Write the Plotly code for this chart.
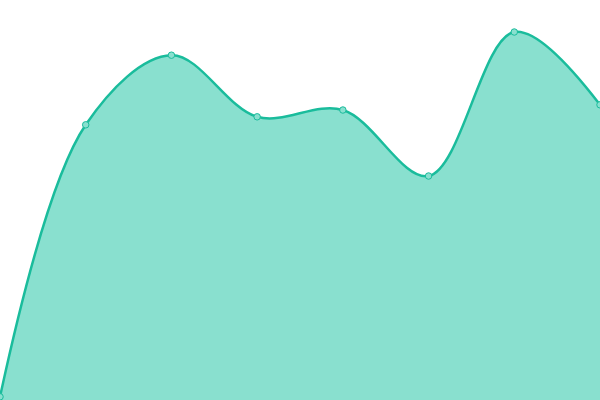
import plotly.graph_objects as go

# point index and values (y axis 0..100)
idx = [0, 1, 2, 3, 4, 5, 6, 7]
values = [0.8, 68.8, 86.2, 70.8, 72.5, 56.0, 92.0, 73.8]

line_col = '#1abc9c'
fill_col = '#89e0cf'

fig = go.Figure()
fig.add_trace(go.Scatter(
    x=idx, y=values,
    mode='lines+markers',
    line=dict(color=line_col, width=2.5, shape='spline', smoothing=1),
    fill='tozeroy', fillcolor=fill_col,
    marker=dict(size=6.5, color=fill_col, line=dict(color=line_col, width=1)),
    cliponaxis=False,
    hoverinfo='skip',
))

fig.update_layout(
    width=600, height=400,
    margin=dict(l=0, r=0, t=0, b=0),
    paper_bgcolor='white', plot_bgcolor='white',
    showlegend=False,
    xaxis=dict(range=[0, 7], visible=False, fixedrange=True),
    yaxis=dict(range=[0, 100], visible=False, fixedrange=True),
)

# drop the page's default body margin so the chart fills the window
fig.write_html("out.html", config={'displayModeBar': False},
               post_script="document.body.style.margin='0';document.body.style.overflow='hidden';")
